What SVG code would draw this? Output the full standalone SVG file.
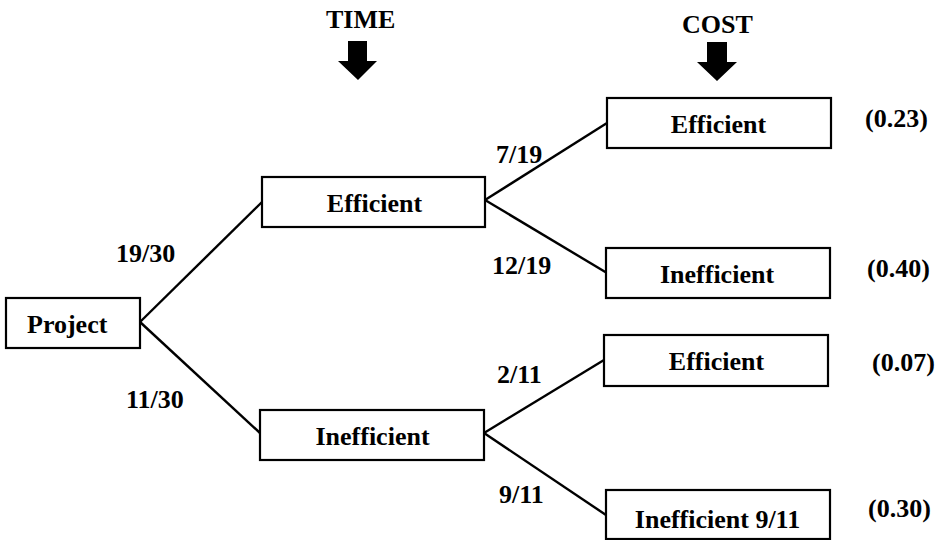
<svg xmlns="http://www.w3.org/2000/svg" width="938" height="540" viewBox="0 0 938 540" font-family="Liberation Serif, Times New Roman, serif" font-weight="bold" font-size="26">
<style>
text{font-family:"Liberation Serif","Times New Roman",serif;font-weight:700;font-size:26px;fill:#000}
.box{fill:#fff;stroke:#000;stroke-width:2.2}
.c{text-anchor:middle}
#connectors line{stroke:#000;stroke-width:2.4}
</style>
<rect width="938" height="540" fill="#fff"/>
<g id="headers">
<text x="326" y="28">TIME</text>
<polygon points="348,41 367,41 367,61 377,61 358,80 338,61 348,61" fill="#000"/>
<text x="682" y="33">COST</text>
<polygon points="707,42 727,42 727,62 737,62 717,81 697,62 707,62" fill="#000"/>
</g>
<g id="connectors">
<line x1="140" y1="322" x2="262" y2="202"/>
<line x1="140" y1="322" x2="260" y2="433"/>
<line x1="485" y1="200" x2="607" y2="123"/>
<line x1="485" y1="200" x2="607" y2="273"/>
<line x1="484" y1="433" x2="604" y2="360"/>
<line x1="484" y1="433" x2="606" y2="515"/>
</g>
<g id="edge-labels">
<text x="116" y="262">19/30</text>
<text x="126" y="408">11/30</text>
<text x="496" y="163">7/19</text>
<text x="492" y="274">12/19</text>
<text x="497" y="383">2/11</text>
<text x="499" y="503">9/11</text>
</g>
<g id="project">
<rect class="box" x="6" y="298" width="134" height="50"/>
<text x="27" y="333">Project</text>
</g>
<g id="time-efficient">
<rect class="box" x="262" y="177" width="223" height="50"/>
<text class="c" x="374.5" y="212">Efficient</text>
</g>
<g id="time-inefficient">
<rect class="box" x="260" y="410" width="224" height="50"/>
<text class="c" x="372.5" y="445">Inefficient</text>
</g>
<g id="cost-ee">
<rect class="box" x="607" y="98" width="224" height="50"/>
<text class="c" x="718.5" y="133">Efficient</text>
<text x="865" y="127">(0.23)</text>
</g>
<g id="cost-ei">
<rect class="box" x="606" y="248" width="224" height="50"/>
<text class="c" x="717" y="283">Inefficient</text>
<text x="867" y="277">(0.40)</text>
</g>
<g id="cost-ie">
<rect class="box" x="604" y="335" width="224" height="51"/>
<text class="c" x="716.5" y="370">Efficient</text>
<text x="872" y="371">(0.07)</text>
</g>
<g id="cost-ii">
<rect class="box" x="606" y="490" width="224" height="49"/>
<text class="c" x="717.5" y="528">Inefficient 9/11</text>
<text x="868" y="517">(0.30)</text>
</g>
</svg>
